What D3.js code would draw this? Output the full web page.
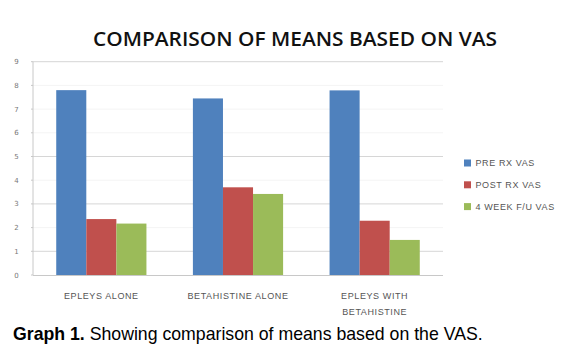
<!DOCTYPE html>
<html>
<head>
<meta charset="utf-8">
<script src="https://cdn.jsdelivr.net/npm/d3@7"></script>
<style>
  body { margin: 0; background: #fff; }
  svg { display: block; }
</style>
</head>
<body>
<div id="chart"></div>
<script>
// data
const categories = [['EPLEYS ALONE'], ['BETAHISTINE  ALONE'], ['EPLEYS WITH', 'BETAHISTINE']]
const seriesNames = ['PRE RX VAS', 'POST RX VAS', '4 WEEK F/U VAS']
const preRx = [7.8, 7.45, 7.79]
const postRx = [2.36, 3.7, 2.29]
const fourWeek = [2.17, 3.42, 1.48]
const yTicks = [0, 1, 2, 3, 4, 5, 6, 7, 8, 9]
const colors = ['#4f81bd', '#c0504d', '#9bbb59']

const W = 570, H = 351
const plot = { left: 33, right: 443, top: 61.7, bottom: 275 }

const svg = d3.select('#chart').append('svg')
  .attr('width', W).attr('height', H)

const series = [preRx, postRx, fourWeek]

const x0 = d3.scaleBand()
  .domain(d3.range(categories.length))
  .range([plot.left, plot.right])
  .paddingInner(0.34).paddingOuter(0.17)
const x1 = d3.scaleBand()
  .domain(d3.range(series.length))
  .range([0, x0.bandwidth()])
const y = d3.scaleLinear().domain([0, 9]).range([plot.bottom, plot.top])

// gridlines (only some survive in the original raster)
svg.append('g').selectAll('line')
  .data(yTicks.filter(d => d > 0))
  .enter().append('line')
  .attr('x1', plot.left).attr('x2', plot.right)
  .attr('y1', d => y(d)).attr('y2', d => y(d))
  .attr('stroke', d => (d % 2 == 1 && d != 7) ? '#d6d6d6' : '#f4f4f4')
  .attr('stroke-width', 1)

// axes
svg.append('line')
  .attr('x1', plot.left).attr('x2', plot.left)
  .attr('y1', plot.top).attr('y2', plot.bottom)
  .attr('stroke', '#c8c8c8')
svg.append('g').selectAll('line')
  .data(yTicks)
  .enter().append('line')
  .attr('x1', plot.left - 2).attr('x2', plot.left)
  .attr('y1', d => y(d)).attr('y2', d => y(d))
  .attr('stroke', '#c8c8c8')

svg.append('g').selectAll('text')
  .data(yTicks)
  .enter().append('text')
  .attr('x', 16.5).attr('y', d => y(d) + 2.5)
  .attr('text-anchor', 'middle')
  .attr('font-family', 'DejaVu Sans')
  .attr('font-size', 7)
  .attr('fill', '#777')
  .text(d => d)

// bars
const groups = svg.append('g').selectAll('g')
  .data(categories.map((c, i) => i))
  .enter().append('g')
  .attr('transform', i => 'translate(' + x0(i) + ',0)')

groups.selectAll('rect')
  .data(i => series.map((s, j) => ({ j, v: s[i] })))
  .enter().append('rect')
  .attr('x', d => x1(d.j))
  .attr('width', x1.bandwidth())
  .attr('y', d => y(d.v))
  .attr('height', d => y(0) - y(d.v))
  .attr('fill', d => colors[d.j])

svg.append('line')
  .attr('x1', plot.left).attr('x2', plot.right)
  .attr('y1', plot.bottom + 0.5).attr('y2', plot.bottom + 0.5)
  .attr('stroke', '#c8c8c8')

// category labels
const cl = svg.append('g').selectAll('text')
  .data(categories)
  .enter().append('text')
  .attr('x', (d, i) => x0(i) + x0.bandwidth() / 2)
  .attr('y', 298.5)
  .attr('text-anchor', 'middle')
  .attr('font-family', 'Liberation Sans')
  .attr('font-size', 9)
  .attr('letter-spacing', 0.6)
  .attr('fill', '#555')
cl.selectAll('tspan')
  .data(d => d)
  .enter().append('tspan')
  .attr('x', function () { return d3.select(this.parentNode).attr('x') })
  .attr('dy', (d, i) => i ? 16.5 : 0)
  .text(d => d)

// legend
const lg = svg.append('g').selectAll('g')
  .data(seriesNames)
  .enter().append('g')
  .attr('transform', (d, i) => 'translate(464,' + (163 + i * 21.8) + ')')
lg.append('rect')
  .attr('x', 0).attr('y', -3.5).attr('width', 7).attr('height', 7)
  .attr('fill', (d, i) => colors[i])
lg.append('text')
  .attr('x', 11.5).attr('y', 3.3)
  .attr('font-family', 'Liberation Sans')
  .attr('font-size', 9)
  .attr('letter-spacing', 0.6)
  .attr('fill', '#555')
  .text(d => d)

// title
svg.append('text')
  .attr('x', 295).attr('y', 46)
  .attr('text-anchor', 'middle')
  .attr('font-family', 'Open Sans')
  .attr('font-weight', 600)
  .attr('font-size', 20.5)
  .attr('fill', '#111')
  .attr('textLength', 404)
  .attr('lengthAdjust', 'spacingAndGlyphs')
  .text('COMPARISON OF MEANS BASED ON VAS')

// caption
const cap = svg.append('text')
  .attr('x', 13).attr('y', 339.5)
  .attr('font-family', 'Liberation Sans')
  .attr('font-size', 17.7)
  .attr('fill', '#000')
cap.append('tspan').attr('font-weight', 'bold').text('Graph 1.')
cap.append('tspan').text(' Showing comparison of means based on the VAS.')
</script>
</body>
</html>
